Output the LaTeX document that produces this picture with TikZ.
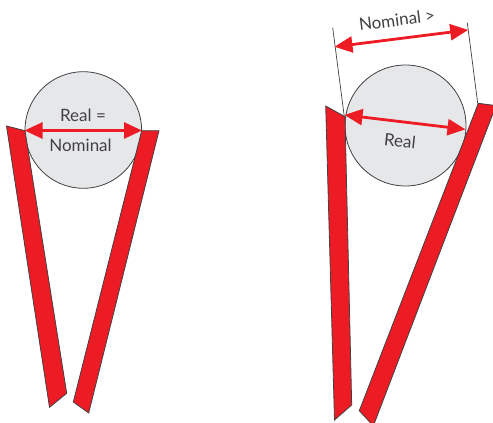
\documentclass[tikz,border=0pt]{standalone}
\usepackage{fontspec}
\setmainfont{Lato}
\usetikzlibrary{arrows.meta}
\definecolor{beltred}{HTML}{ED1C24}
\definecolor{discgrey}{HTML}{E6E7E8}
\definecolor{inkgrey}{HTML}{414042}
\tikzset{
  belt/.style={fill=beltred,draw=inkgrey,line width=0.8pt,line join=miter},
  disc/.style={circle,fill=discgrey,draw=inkgrey,line width=0.8pt,inner sep=0pt},
  measure/.style={draw=beltred,line width=2.8pt,{Triangle[length=18pt,width=16pt]}-{Triangle[length=18pt,width=16pt]},shorten <=-0.5pt,shorten >=-0.5pt},
  guide/.style={draw=inkgrey,line width=0.7pt},
  label/.style={text=inkgrey,inner sep=0pt,font=\fontsize{17}{19}\selectfont}
}
\begin{document}
\begin{tikzpicture}[x=1pt,y=-1pt]
\useasboundingbox (0,0) rectangle (493,423);
% left figure
\node[disc,minimum size=116.6pt] (discL) at (83.3,130) {};
\draw[belt] (6.5,126) -- (25,130.7) -- (66.7,393.3) -- (49.5,407.3) -- cycle;
\draw[belt] (141.7,130.7) -- (159,130.7) -- (88.7,413) -- (73.3,402) -- cycle;
\coordinate (la) at (25,130.5);
\coordinate (lb) at (141.5,130.5);
\draw[measure] (la) -- (lb);
\node[label] (realeq) at (83,115) {Real =};
\node[label] (nomL) at (80.5,145.5) {Nominal};
% right figure
\node[disc,minimum size=121pt] (discR) at (405.5,125.5) {};
\draw[belt] (325.7,106) -- (345,116.7) -- (351.7,405) -- (334.5,420) -- cycle;
\begin{scope}
\clip (0,0) rectangle (493,423);
\draw[belt] (478.3,103.3) -- (496,105.6) -- (373.3,426) -- (359.3,410.7) -- cycle;
\end{scope}
\coordinate (ga1) at (332.7,27.7);
\coordinate (ga2) at (344.3,116.7);
\coordinate (gb1) at (467.3,22.7);
\coordinate (gb2) at (477.7,103.3);
\draw[guide] (ga1) -- (ga2);
\draw[guide] (gb1) -- (gb2);
\coordinate (na) at (335,46.7);
\coordinate (nb) at (467.7,30);
\draw[measure] (na) -- (nb);
\coordinate (ra) at (345,115);
\coordinate (rb) at (465,129.3);
\draw[measure] (ra) -- (rb);
\node[label,rotate=7] (nomR) at (397,20) {Nominal >};
\node[label,rotate=-6] (realR) at (400,141) {Real};
\end{tikzpicture}
\end{document}
